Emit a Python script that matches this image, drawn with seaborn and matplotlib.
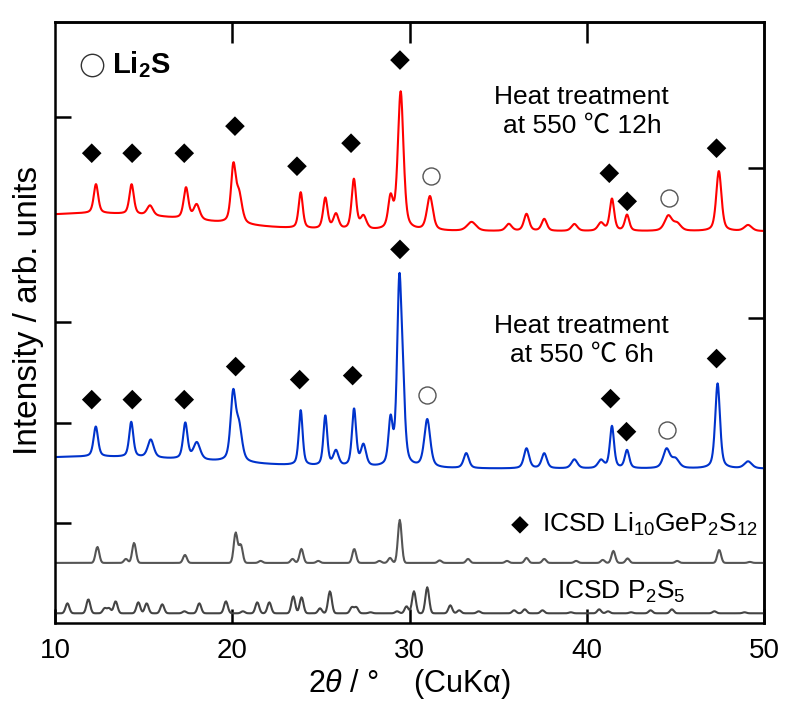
import numpy as np
import pandas as pd
import matplotlib
matplotlib.use('Agg')
from matplotlib import pyplot as plt
import seaborn as sns

# ---- data (2theta in deg, heights in arb. units) ----
# heat treatment 550 C 12h (red)
red_pos = [12.31, 14.32, 15.36, 17.39, 17.99, 20.06, 20.38, 23.86, 25.25, 25.85, 26.86, 27.40,
           28.93, 29.50, 31.15, 33.50, 35.60, 36.60, 37.60, 39.30, 40.80, 41.42, 42.27, 44.60,
           45.10, 47.45, 49.10]
red_h = [0.29, 0.30, 0.10, 0.31, 0.15, 0.55, 0.28, 0.36, 0.31, 0.15, 0.50, 0.13,
         0.30, 1.38, 0.34, 0.09, 0.07, 0.17, 0.12, 0.07, 0.08, 0.32, 0.16, 0.15,
         0.07, 0.60, 0.06]
red_w = [0.30, 0.30, 0.40, 0.32, 0.40, 0.32, 0.40, 0.28, 0.30, 0.35, 0.30, 0.40,
         0.32, 0.38, 0.40, 0.60, 0.40, 0.35, 0.35, 0.40, 0.40, 0.30, 0.30, 0.50,
         0.50, 0.35, 0.50]
red_base = 3.91
red_hump = (12.0, 0.18, 6.0)   # center, height, sigma

# heat treatment 550 C 6h (blue)
blue_pos = [12.30, 14.30, 15.40, 17.35, 18.00, 20.05, 20.38, 23.86, 25.25, 25.85, 26.87, 27.40,
            28.93, 29.42, 29.62, 31.00, 33.20, 36.60, 37.60, 39.30, 40.80, 41.42, 42.27, 44.50,
            45.00, 47.38, 49.10]
blue_h = [0.30, 0.35, 0.18, 0.36, 0.17, 0.66, 0.33, 0.55, 0.50, 0.15, 0.57, 0.21,
          0.44, 1.72, 0.60, 0.48, 0.15, 0.20, 0.15, 0.09, 0.08, 0.42, 0.18, 0.19,
          0.09, 0.85, 0.07]
blue_w = [0.30, 0.28, 0.40, 0.30, 0.45, 0.35, 0.40, 0.26, 0.26, 0.35, 0.28, 0.35,
          0.28, 0.30, 0.30, 0.40, 0.35, 0.35, 0.35, 0.40, 0.40, 0.28, 0.30, 0.45,
          0.50, 0.32, 0.50]
blue_base = 1.54
blue_hump = (12.0, 0.12, 7.0)

# ICSD Li10GeP2S12 reference
lgps_pos = [12.39, 14.00, 14.46, 17.33, 20.19, 20.48, 21.60, 23.40, 23.90, 24.85, 26.88, 28.30,
            28.90, 29.45, 31.70, 33.30, 35.50, 36.60, 37.60, 39.40, 40.90, 41.50, 42.30, 45.10,
            47.47, 49.20]
lgps_h = [0.16, 0.04, 0.20, 0.08, 0.30, 0.18, 0.02, 0.04, 0.14, 0.02, 0.14, 0.02,
          0.05, 0.43, 0.025, 0.04, 0.02, 0.05, 0.04, 0.02, 0.03, 0.12, 0.045, 0.02,
          0.13, 0.01]
lgps_base = 0.60

# ICSD P2S5 reference
p2s5_pos = [10.70, 11.88, 12.80, 13.05, 13.42, 14.70, 15.17, 16.05, 17.30, 18.14, 19.64, 20.60,
            21.41, 22.09, 23.44, 23.91, 24.95, 25.51, 26.75, 27.00, 27.80, 29.30, 29.83, 30.25,
            31.00, 32.30, 32.80, 33.90, 35.90, 36.50, 37.50, 39.10, 40.70, 41.20, 42.50, 43.60,
            44.80, 47.20, 48.90]
p2s5_h = [0.10, 0.14, 0.05, 0.05, 0.12, 0.11, 0.10, 0.09, 0.02, 0.10, 0.12, 0.02,
          0.11, 0.11, 0.17, 0.16, 0.05, 0.22, 0.06, 0.06, 0.01, 0.02, 0.07, 0.22,
          0.26, 0.08, 0.03, 0.02, 0.03, 0.04, 0.03, 0.01, 0.04, 0.02, 0.01, 0.03,
          0.04, 0.02, 0.01]
p2s5_base = 0.097
ref_fwhm = 0.25

# peak markers
red_dia_x = [12.07, 14.35, 17.29, 20.15, 23.65, 26.70, 29.46, 41.27, 42.28, 47.32]
red_dia_y = [4.69, 4.69, 4.69, 4.96, 4.56, 4.79, 5.62, 4.49, 4.21, 4.74]
red_cir_x = [31.19, 44.65]
red_cir_y = [4.46, 4.24]
blue_dia_x = [12.07, 14.36, 17.29, 20.19, 23.80, 26.79, 29.46, 41.34, 42.24, 47.32]
blue_dia_y = [2.23, 2.23, 2.23, 2.56, 2.43, 2.47, 3.73, 2.24, 1.91, 2.64]
blue_cir_x = [31.00, 44.53]
blue_cir_y = [2.28, 1.93]


def pv(x, pos, h, w, eta=0.5):
    y = np.zeros_like(x)
    for p, a, f in zip(pos, h, w):
        g = np.exp(-4 * np.log(2) * ((x - p) / f) ** 2)
        l = 1 / (1 + 4 * ((x - p) / f) ** 2)
        y += a * (eta * l + (1 - eta) * g)
    return y


x_meas = np.arange(10, 50.001, 0.02)
x_ref = np.arange(10, 50.001, 0.05)

red_y = red_base + red_hump[1] * np.exp(-(x_meas - red_hump[0]) ** 2 / (2 * red_hump[2] ** 2)) \
    + pv(x_meas, red_pos, red_h, red_w)
blue_y = blue_base + blue_hump[1] * np.exp(-(x_meas - blue_hump[0]) ** 2 / (2 * blue_hump[2] ** 2)) \
    + pv(x_meas, blue_pos, blue_h, blue_w)
lgps_y = lgps_base + pv(x_ref, lgps_pos, lgps_h, [ref_fwhm] * len(lgps_pos), eta=0.0)
p2s5_y = p2s5_base + pv(x_ref, p2s5_pos, p2s5_h, [ref_fwhm] * len(p2s5_pos), eta=0.0)

df = pd.concat([
    pd.DataFrame({'tt': x_meas, 'I': red_y, 'pat': '12h'}),
    pd.DataFrame({'tt': x_meas, 'I': blue_y, 'pat': '6h'}),
    pd.DataFrame({'tt': x_ref, 'I': lgps_y, 'pat': 'LGPS'}),
    pd.DataFrame({'tt': x_ref, 'I': p2s5_y, 'pat': 'P2S5'}),
], ignore_index=True)

sns.set_style('ticks')
plt.rcParams['font.family'] = ['Liberation Sans', 'Noto Sans CJK JP', 'DejaVu Sans']
plt.rcParams['mathtext.fontset'] = 'custom'
plt.rcParams['mathtext.rm'] = 'Liberation Sans'
plt.rcParams['mathtext.it'] = 'Liberation Sans:italic'
plt.rcParams['mathtext.bf'] = 'Liberation Sans:bold'
plt.rcParams['mathtext.default'] = 'regular'
for k in ['text.color', 'axes.labelcolor', 'xtick.color', 'ytick.color', 'axes.edgecolor']:
    plt.rcParams[k] = 'black'

fig = plt.figure(figsize=(7.85, 7.07), dpi=100)
ax = fig.add_axes([0.0701, 0.1188, 0.9032, 0.8501])

pal = {'12h': '#ff0000', '6h': '#0033cc', 'LGPS': '#555555', 'P2S5': '#444444'}
sns.lineplot(data=df, x='tt', y='I', hue='pat', palette=pal, sort=False, estimator=None,
             legend=False, linewidth=1.5, ax=ax)

dkw = dict(marker='D', color='black', s=100, edgecolor='none', zorder=5, ax=ax)
ckw = dict(marker='o', color='white', s=150, edgecolor='#555555', linewidth=1.0, zorder=5, ax=ax)
sns.scatterplot(x=red_dia_x, y=red_dia_y, **dkw)
sns.scatterplot(x=blue_dia_x, y=blue_dia_y, **dkw)
sns.scatterplot(x=red_cir_x, y=red_cir_y, **ckw)
sns.scatterplot(x=blue_cir_x, y=blue_cir_y, **ckw)
sns.scatterplot(x=[12.1], y=[5.57], marker='o', color='white', s=260, edgecolor='#333333',
                linewidth=1.0, zorder=5, ax=ax)
sns.scatterplot(x=[36.23], y=[0.98], marker='D', color='black', s=80, edgecolor='none',
                zorder=5, ax=ax)

ax.text(13.2, 5.57, r'Li$_{\mathbf{2}}$S', fontsize=21, fontweight='bold', va='center', ha='left')
ax.text(39.72, 5.105, 'Heat treatment\nat 550 \u2103 12h', fontsize=19, ha='center', va='center',
        linespacing=1.25)
ax.text(39.72, 2.82, 'Heat treatment\nat 550 \u2103 6h', fontsize=19, ha='center', va='center',
        linespacing=1.25)
ax.text(37.45, 0.98, r'ICSD Li$_{10}$GeP$_2$S$_{12}$', fontsize=19, ha='left', va='center')
ax.text(38.3, 0.31, r'ICSD P$_2$S$_5$', fontsize=19, ha='left', va='center')

ax.set_xlim(10, 50)
ax.set_ylim(0, 6.0)
ax.set_xticks([10, 20, 30, 40, 50])
ax.set_yticks([1.0, 2.0, 3.0, 5.05])
ax.set_yticklabels([])
ax.tick_params(axis='x', direction='in', length=10, width=1.8, labelsize=20, pad=11)
ax.tick_params(axis='y', direction='in', length=11.5, width=1.8)
ax.set_xlabel(r'2$\mathit{\theta}$ / °    (CuKα)', fontsize=22, labelpad=2)
ax.set_ylabel('Intensity / arb. units', fontsize=24)
ax.yaxis.set_label_coords(-0.015, 0.52)
for s in ax.spines.values():
    s.set_linewidth(1.8)

top = ax.secondary_xaxis('top')
top.set_xticks([20, 30, 40])
top.set_xticklabels([])
top.tick_params(direction='in', length=15, width=1.8)
top.spines['top'].set_linewidth(1.8)

right = ax.secondary_yaxis('right')
right.set_yticks([3.04, 4.54])
right.set_yticklabels([])
right.tick_params(direction='in', length=11.5, width=1.8)
right.spines['right'].set_linewidth(1.8)

fig.savefig('out.png', dpi=100)
